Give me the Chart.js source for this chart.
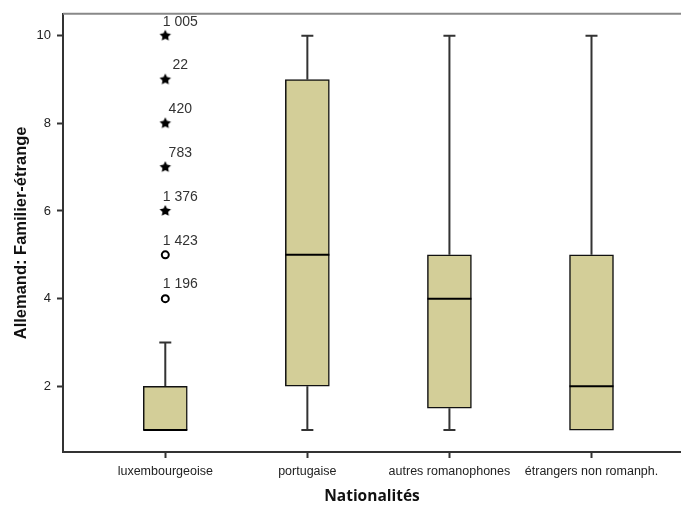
<!DOCTYPE html>
<html>
<head>
<meta charset="utf-8">
<script src="https://cdn.jsdelivr.net/npm/chart.js@4.4.1/dist/chart.umd.min.js"></script>
<style>
    html, body { margin: 0; padding: 0; background: #fff; }
    #wrap { width: 681px; height: 507px; }
</style>
</head>
<body>
<div id="wrap"><canvas id="chart" width="681" height="507"></canvas></div>
<script>
// Données du boxplot
const categories = ['luxembourgeoise', 'portugaise', 'autres romanophones', 'étrangers non romanph.'];
const whiskerLow = [1, 1, 1, 1];
const q1 = [1, 2, 1.5, 1];
const medians = [1, 5, 4, 2];
const q3 = [2, 9, 5, 5];
const whiskerHigh = [3, 10, 10, 10];

// Valeurs extrêmes (toutes dans "luxembourgeoise")
const outlierCategory = [0, 0, 0, 0, 0, 0, 0];
const outlierValues = [4, 5, 6, 7, 8, 9, 10];
const outlierLabels = ['1 196', '1 423', '1 376', '783', '420', '22', '1 005'];
const outlierExtreme = [false, false, true, true, true, true, true];

const yTicks = [2, 4, 6, 8, 10];

const FONT = 'Liberation Sans, Arial, sans-serif';
const BOX_FILL = '#D3CE98';

// Étoile pleine pour les valeurs extrêmes
function makeStar(r) {
    const c = document.createElement('canvas');
    const s = Math.ceil(r * 2 + 2);
    c.width = s; c.height = s;
    const g = c.getContext('2d');
    g.fillStyle = '#000';
    g.beginPath();
    for (let k = 0; k < 10; k++) {
        const rad = k % 2 ? r * 0.5 : r;
        const a = -Math.PI / 2 + k * Math.PI / 5;
        g.lineTo(s / 2 + rad * Math.cos(a), s / 2 + rad * Math.sin(a));
    }
    g.closePath();
    g.fill();
    return c;
}
const starImg = makeStar(6);

const circlePoints = [];
const starPoints = [];
outlierValues.forEach((v, i) => {
    const p = { x: outlierCategory[i] + 1, y: v };
    (outlierExtreme[i] ? starPoints : circlePoints).push(p);
});

// Moustaches, médianes, étiquettes et bordure supérieure
const boxExtras = {
    id: 'boxExtras',
    beforeDatasetsDraw(chart) {
        const { ctx, scales: { x, y } } = chart;
        ctx.save();
        ctx.strokeStyle = '#333';
        ctx.lineWidth = 2;
        categories.forEach((c, i) => {
            const px = x.getPixelForValue(i + 1);
            if (whiskerLow[i] < q1[i]) {
                const py = y.getPixelForValue(whiskerLow[i]);
                ctx.beginPath();
                ctx.moveTo(px, y.getPixelForValue(q1[i]));
                ctx.lineTo(px, py);
                ctx.moveTo(px - 6, py);
                ctx.lineTo(px + 6, py);
                ctx.stroke();
            }
            if (whiskerHigh[i] > q3[i]) {
                const py = y.getPixelForValue(whiskerHigh[i]);
                ctx.beginPath();
                ctx.moveTo(px, y.getPixelForValue(q3[i]));
                ctx.lineTo(px, py);
                ctx.moveTo(px - 6, py);
                ctx.lineTo(px + 6, py);
                ctx.stroke();
            }
        });
        ctx.restore();
    },
    afterDatasetsDraw(chart) {
        const { ctx, scales: { x, y } } = chart;
        const bars = chart.getDatasetMeta(0).data;
        ctx.save();
        ctx.strokeStyle = '#000';
        ctx.lineWidth = 2;
        bars.forEach((bar, i) => {
            const py = y.getPixelForValue(medians[i]);
            ctx.beginPath();
            ctx.moveTo(bar.x - bar.width / 2, py);
            ctx.lineTo(bar.x + bar.width / 2, py);
            ctx.stroke();
        });
        ctx.fillStyle = '#333';
        ctx.font = '14px ' + FONT;
        ctx.textAlign = 'center';
        ctx.textBaseline = 'middle';
        outlierValues.forEach((v, i) => {
            const px = x.getPixelForValue(outlierCategory[i] + 1);
            const py = y.getPixelForValue(v);
            ctx.fillText(outlierLabels[i], px + 15, py - 14);
        });
        ctx.restore();
    },
    afterDraw(chart) {
        const { ctx, chartArea } = chart;
        ctx.save();
        ctx.strokeStyle = '#888';
        ctx.lineWidth = 2;
        ctx.beginPath();
        ctx.moveTo(chartArea.left, chartArea.top);
        ctx.lineTo(chart.width, chartArea.top);
        ctx.stroke();
        ctx.restore();
    }
};

new Chart(document.getElementById('chart'), {
    type: 'bar',
    data: {
        datasets: [
            {
                data: categories.map((c, i) => ({ x: i + 1, y: [q1[i], q3[i]] })),
                backgroundColor: BOX_FILL,
                borderColor: '#111',
                borderWidth: 1.5,
                borderSkipped: false,
                barThickness: 44
            },
            {
                type: 'scatter',
                data: circlePoints,
                pointStyle: 'circle',
                pointRadius: 3.5,
                borderWidth: 2,
                borderColor: '#000',
                backgroundColor: '#fff'
            },
            {
                type: 'scatter',
                data: starPoints,
                pointStyle: starImg
            }
        ]
    },
    options: {
        responsive: false,
        animation: false,
        devicePixelRatio: 1,
        layout: { autoPadding: false, padding: { top: 10, right: 0, left: 0, bottom: 0 } },
        plugins: {
            legend: { display: false },
            tooltip: { enabled: false }
        },
        scales: {
            x: {
                type: 'linear',
                offset: false,
                min: 0.28,
                max: 4.63,
                afterBuildTicks: s => { s.ticks = categories.map((c, i) => ({ value: i + 1 })); },
                afterFit: s => { s.height = 55; s.paddingLeft = 0; s.paddingRight = 0; },
                grid: { offset: false, drawOnChartArea: false, drawTicks: true, tickLength: 6, tickColor: '#333', tickWidth: 2 },
                border: { display: true, color: '#333', width: 2 },
                ticks: {
                    autoSkip: false,
                    maxRotation: 0,
                    padding: 6,
                    color: '#222',
                    font: { family: FONT, size: 12.5 },
                    callback: v => categories[v - 1]
                },
                title: {
                    display: true,
                    text: 'Nationalités',
                    color: '#111',
                    font: { family: 'Open Sans, sans-serif', size: 15.5, weight: 'bold' },
                    padding: { top: 0, bottom: 1 }
                }
            },
            y: {
                min: 0.5,
                max: 10.5,
                afterBuildTicks: s => { s.ticks = yTicks.map(v => ({ value: v })); },
                afterFit: s => { s.width = 63; },
                grid: { drawOnChartArea: false, drawTicks: true, tickLength: 6, tickColor: '#333', tickWidth: 2 },
                border: { display: true, color: '#333', width: 2 },
                ticks: {
                    padding: 6,
                    color: '#222',
                    font: { family: FONT, size: 13 }
                },
                title: {
                    display: true,
                    text: 'Allemand: Familier-étrange',
                    color: '#111',
                    font: { family: FONT, size: 16.5, weight: 'bold' },
                    padding: { top: 12, bottom: 0 }
                }
            }
        }
    },
    plugins: [boxExtras]
});
</script>
</body>
</html>
